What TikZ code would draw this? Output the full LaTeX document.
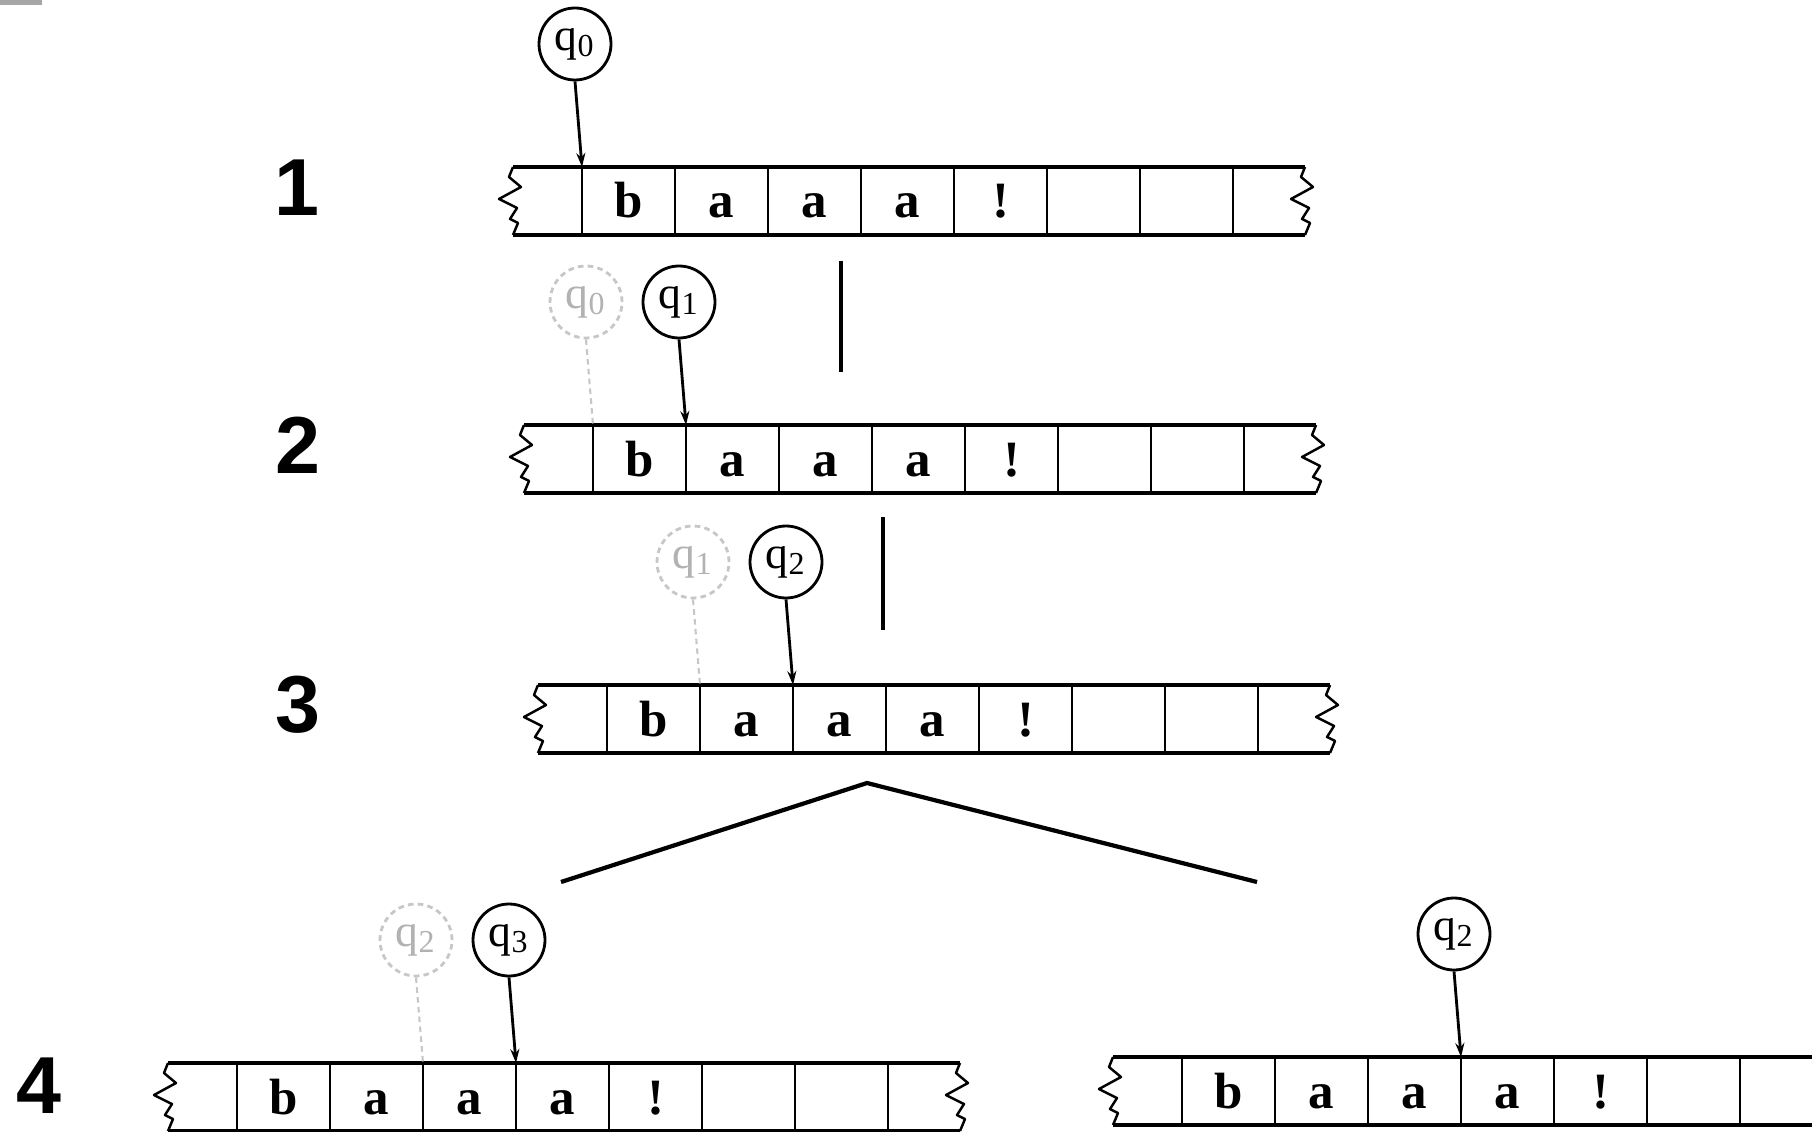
\documentclass[tikz,border=0pt]{standalone}
\usepackage{fontspec}
\setmainfont{Liberation Serif}
\newfontfamily\stepfont{Liberation Sans}
\usetikzlibrary{arrows.meta,calc}
\tikzset{
    tape diagram/.style = {x=0.1mm, y=-0.1mm,
                           >={Stealth[length=1.4mm, width=0.9mm]}},
    tape edge/.style    = {line width=1pt},
    divider/.style      = {line width=0.7pt},
    torn/.style         = {line width=0.7pt, line join=round},
    cellsym/.style      = {anchor=base, inner sep=0pt,
                           font=\fontsize{14.5}{14.5}\selectfont\bfseries},
    state/.style        = {draw, circle, line width=0.8pt, inner sep=0pt,
                           minimum size=7.2mm,
                           font=\fontsize{13}{13}\selectfont},
    old state/.style    = {state, draw=black!22, text=black!30,
                           dash pattern=on 1.6pt off 1.2pt},
    head/.style         = {->, line width=0.8pt},
    old head/.style     = {line width=0.6pt, draw=black!22,
                           dash pattern=on 1.6pt off 1.2pt},
    stepnum/.style      = {inner sep=0pt,
                           font=\fontsize{23}{23}\selectfont\stepfont\bfseries},
    link/.style         = {line width=1.2pt}
}
% tape strip: name, x of the torn left end, y of the top edge
\newcommand{\tapestrip}[3]{%
    \coordinate (#1-nw) at (#2,#3);
    \coordinate (#1-ne) at ($(#1-nw)+(792,0)$);
    \draw[tape edge] (#1-nw) -- (#1-ne);
    \draw[tape edge] ($(#1-nw)+(0,68)$) -- ($(#1-ne)+(0,68)$);
    \foreach \e in {nw,ne}
        \draw[torn] (#1-\e) -- ++(-4,10) -- ++(12,10) -- ++(-22,12)
            -- ++(18,9) -- ++(-7,11) -- ++(8,4) -- ++(-5,12);
    \foreach \k in {0,...,7} {
        \coordinate (#1-d\k) at ($(#1-nw)+(69+93*\k,0)$);
        \draw[divider] (#1-d\k) -- ++(0,68);
    }
    \foreach \sym [count=\k from 0] in {b,a,a,a,!}
        \node[cellsym] (#1-c\k) at ($(#1-d\k)+(46.5,51)$) {\sym};
}
\def\stateup{-123}

\begin{document}
\begin{tikzpicture}[tape diagram]
\clip (0,0) rectangle (1812,1131);
\fill[black!35] (0,0) rectangle (42,5);

% Step 1: start state reads b.
\node[stepnum] (n1) at (297,188) {1};
\tapestrip{t1}{513}{167}
\node[state] (s1) at ($(t1-d0)+(-7,\stateup)$) {q\textsubscript{0}};
\draw[head] (s1.south) -- (t1-d0);
\coordinate (l1-top) at (841,261);
\coordinate (l1-bot) at (841,372);
\draw[link] (l1-top) -- (l1-bot);

% Step 2: head moved one cell to the right.
\node[stepnum] (n2) at (298,445) {2};
\tapestrip{t2}{524}{425}
\node[old state] (s2old) at ($(t2-d0)+(-7,\stateup)$) {q\textsubscript{0}};
\draw[old head] (s2old.south) -- (t2-d0);
\node[state] (s2) at ($(t2-d1)+(-7,\stateup)$) {q\textsubscript{1}};
\draw[head] (s2.south) -- (t2-d1);
\coordinate (l2-top) at (883,517);
\coordinate (l2-bot) at (883,630);
\draw[link] (l2-top) -- (l2-bot);

% Step 3: first a read.
\node[stepnum] (n3) at (298,705) {3};
\tapestrip{t3}{538}{685}
\node[old state] (s3old) at ($(t3-d1)+(-7,\stateup)$) {q\textsubscript{1}};
\draw[old head] (s3old.south) -- (t3-d1);
\node[state] (s3) at ($(t3-d2)+(-7,\stateup)$) {q\textsubscript{2}};
\draw[head] (s3.south) -- (t3-d2);
\coordinate (fork) at (867,783);
\coordinate (fork-l) at (561,882);
\coordinate (fork-r) at (1257,882);
\draw[link] (fork-l) -- (fork) -- (fork-r);

% Step 4: two choices for the second a.
\node[stepnum] (n4) at (39,1086) {4};
\tapestrip{t4}{168}{1063}
\node[old state] (s4old) at ($(t4-d2)+(-7,\stateup)$) {q\textsubscript{2}};
\draw[old head] (s4old.south) -- (t4-d2);
\node[state] (s4) at ($(t4-d3)+(-7,\stateup)$) {q\textsubscript{3}};
\draw[head] (s4.south) -- (t4-d3);
\tapestrip{t5}{1113}{1057}
\node[state] (s5) at ($(t5-d3)+(-7,\stateup)$) {q\textsubscript{2}};
\draw[head] (s5.south) -- (t5-d3);

\end{tikzpicture}
\end{document}
